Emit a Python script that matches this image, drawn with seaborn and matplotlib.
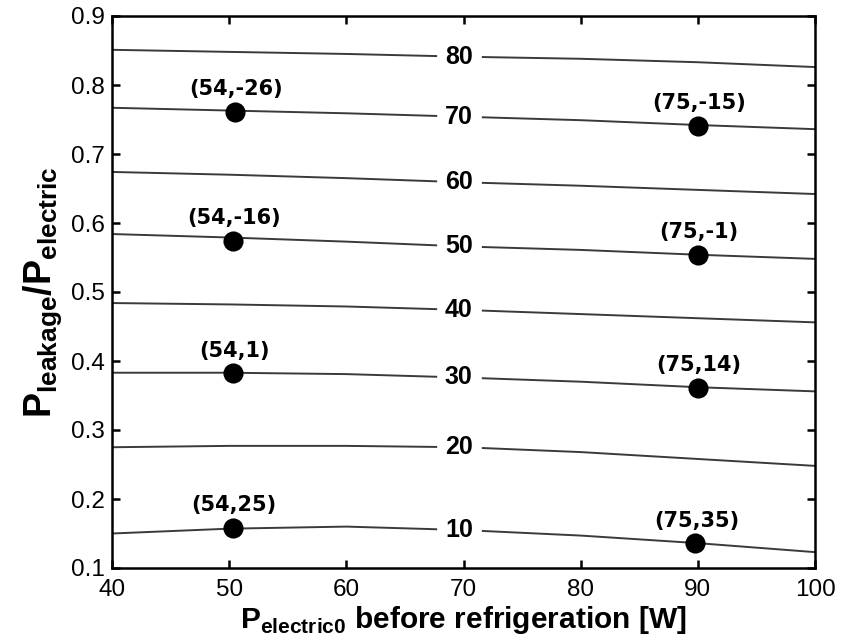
import matplotlib
matplotlib.use("Agg")
import matplotlib.pyplot as plt
import seaborn as sns
import pandas as pd

# ---- data ----
x_grid = [40, 50, 60, 70, 80, 90, 100]
levels = [80, 70, 60, 50, 40, 30, 20, 10]
line_80 = [0.851, 0.848, 0.845, 0.841, 0.838, 0.833, 0.826]
line_70 = [0.767, 0.763, 0.759, 0.754, 0.749, 0.742, 0.736]
line_60 = [0.674, 0.670, 0.665, 0.659, 0.654, 0.648, 0.642]
line_50 = [0.584, 0.579, 0.573, 0.566, 0.561, 0.554, 0.548]
line_40 = [0.484, 0.482, 0.479, 0.474, 0.468, 0.462, 0.456]
line_30 = [0.383, 0.383, 0.381, 0.376, 0.370, 0.362, 0.356]
line_20 = [0.275, 0.277, 0.277, 0.275, 0.268, 0.258, 0.248]
line_10 = [0.150, 0.157, 0.160, 0.155, 0.147, 0.136, 0.123]
lines = [line_80, line_70, line_60, line_50, line_40, line_30, line_20, line_10]
label_x = 69.6

point_x = [50.5, 50.3, 50.3, 50.3, 90.0, 90.0, 90.0, 89.8]
point_y = [0.761, 0.574, 0.382, 0.158, 0.741, 0.554, 0.361, 0.136]
point_labels = ["(54,-26)", "(54,-16)", "(54,1)", "(54,25)",
                "(75,-15)", "(75,-1)", "(75,14)", "(75,35)"]

x_ticks = [40, 50, 60, 70, 80, 90, 100]
y_ticks = [0.1, 0.2, 0.3, 0.4, 0.5, 0.6, 0.7, 0.8, 0.9]

# ---- style ----
sns.set_theme(style="ticks")
plt.rcParams["font.family"] = ["Liberation Sans", "DejaVu Sans"]
plt.rcParams["text.color"] = "black"
plt.rcParams["axes.labelcolor"] = "black"
plt.rcParams["mathtext.fontset"] = "custom"
plt.rcParams["mathtext.rm"] = "Liberation Sans"
plt.rcParams["mathtext.bf"] = "Liberation Sans:bold"

fig = plt.figure(figsize=(8.41, 6.41), dpi=100)
ax = fig.add_axes([112 / 841, 1 - 568 / 641, (815 - 112) / 841, (568 - 16) / 641])

rows = []
for lev, ys in zip(levels, lines):
    for xv, yv in zip(x_grid, ys):
        rows.append({"x": xv, "y": yv, "level": lev})
df = pd.DataFrame(rows)

for lev in levels:
    sub = df[df["level"] == lev]
    sns.lineplot(data=sub, x="x", y="y", color="#3a3a3a", linewidth=1.4,
                 ax=ax, zorder=2)
    s = pd.Series(sub["y"].values, index=sub["x"].values.astype(float))
    yl = float(s.reindex(sorted(set(s.index) | {label_x})).interpolate("index")[label_x])
    ax.text(label_x, yl, str(lev), ha="center", va="center", fontsize=18,
            fontweight="bold", color="black", zorder=3,
            bbox=dict(boxstyle="square,pad=0.0", fc="white", ec="white",
                      lw=12))

pts = pd.DataFrame({"x": point_x, "y": point_y})
sns.scatterplot(data=pts, x="x", y="y", color="black", s=180, edgecolor="black",
                ax=ax, zorder=4)
for px, py, lab in zip(point_x, point_y, point_labels):
    ax.annotate(lab, (px, py), xytext=(1, 9), textcoords="offset points",
                ha="center", va="bottom", fontsize=15, fontweight="bold",
                color="black", family=["DejaVu Sans"], zorder=5)

ax.set_xlim(40, 100)
ax.set_ylim(0.1, 0.9)
ax.set_xticks(x_ticks)
ax.set_yticks(y_ticks)
ax.set_xticklabels([str(v) for v in x_ticks])
ax.set_yticklabels([f"{v:.1f}" for v in y_ticks])
ax.tick_params(direction="in", length=6, width=1.8, labelsize=17.5,
               top=True, right=True, colors="black", labelcolor="black")
ax.tick_params(axis="x", pad=8)
ax.tick_params(axis="y", pad=5)
for sp in ax.spines.values():
    sp.set_visible(True)
    sp.set_linewidth(1.8)
    sp.set_color("black")

ax.set_xlabel(r"$\mathbf{P}_{\mathbf{electric0}}$ before refrigeration [W]",
              fontsize=21.5, fontweight="bold", labelpad=2)
ax.set_ylabel(r"$\mathbf{P}_{\mathbf{leakage}}\mathbf{/P}_{\mathbf{electric}}$",
              fontsize=27, fontweight="bold", labelpad=5)

fig.savefig("out.png", dpi=100)
